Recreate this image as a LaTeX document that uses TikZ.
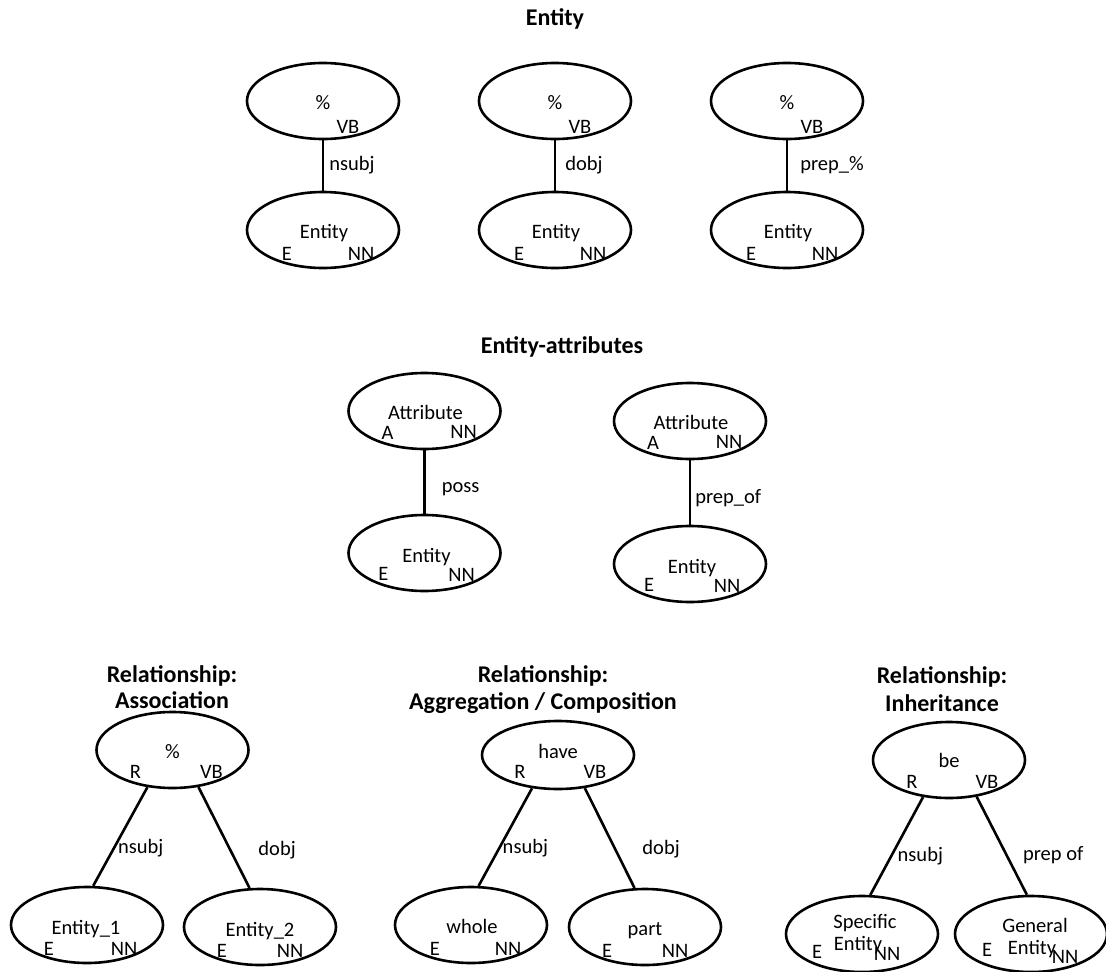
\documentclass[tikz,border=0pt]{standalone}
\usepackage{fontspec}
\setmainfont{Carlito}
\usetikzlibrary{shapes.geometric}
% place a text with its baseline at an offset from a node's centre
\newcommand\ptxt[4]{\node[lbl] at ([shift={(#2,#3)}]#1.center) {#4};}
\begin{document}
\begin{tikzpicture}[x=1pt,y=-1pt,
  ell/.style={draw, ellipse, line width=2.6pt, minimum width=152pt, minimum height=76pt, inner sep=0pt},
  link/.style={line width=2.6pt},
  lbl/.style={inner sep=0pt, anchor=base, font=\fontsize{20.5}{24}\selectfont},
  elbl/.style={inner sep=0pt, anchor=west, font=\fontsize{20.5}{24}\selectfont},
  ttl/.style={inner sep=0pt, anchor=base, font=\fontsize{24}{28}\selectfont\bfseries}]
\useasboundingbox (0,0) rectangle (1106,972);

% ---------- Entity ----------
\node[ttl] (tEnt) at (555,25) {Entity};
\node[ell] (t1) at (323,101) {};
\node[ell] (t2) at (555,101) {};
\node[ell] (t3) at (787,101) {};
\node[ell] (b1) at (323,230) {};
\node[ell] (b2) at (555,230) {};
\node[ell] (b3) at (787,230) {};
\foreach \n in {t1,t2,t3}{\ptxt{\n}{0}{8}{\%}\ptxt{\n}{25}{32}{VB}}
\foreach \n in {b1,b2,b3}{\ptxt{\n}{1}{8}{Entity}\ptxt{\n}{-36}{30}{E}\ptxt{\n}{38}{30}{NN}}
\draw[link] (t1.south) -- node[elbl, pos=.5, xshift=5pt] {nsubj} (b1.north);
\draw[link] (t2.south) -- node[elbl, pos=.5, xshift=9pt] {dobj} (b2.north);
\draw[link] (t3.south) -- node[elbl, pos=.5, xshift=12pt] {prep\_\%} (b3.north);

% ---------- Entity-attributes ----------
\node[ttl] (tAtt) at (562,353) {Entity-attributes};
\node[ell] (a1) at (424.5,411) {};
\node[ell] (a2) at (690,421) {};
\node[ell] (ae1) at (424.5,553) {};
\node[ell] (ae2) at (690,564) {};
\foreach \n in {a1,a2}{\ptxt{\n}{1}{8}{Attribute}\ptxt{\n}{-37}{28}{A}\ptxt{\n}{39}{27}{NN}}
\foreach \n in {ae1,ae2}{\ptxt{\n}{2}{9}{Entity}\ptxt{\n}{-41}{27}{E}\ptxt{\n}{37}{28}{NN}}
\draw[link] (a1.south) -- node[elbl, pos=.61, xshift=16pt] {poss} (ae1.north);
\draw[link] (a2.south) -- node[elbl, pos=.58, xshift=4pt] {prep\_of} (ae2.north);

% ---------- Relationship: Association ----------
\node[ttl] (tAs1) at (172,682) {Relationship:};
\node[ttl] (tAs2) at (172,708) {Association};
\node[ell] (r1) at (172.5,750) {};
\node[ell] (e11) at (87,925) {};
\node[ell] (e12) at (260,927) {};
\ptxt{r1}{0}{8}{\%}\ptxt{r1}{-37}{28}{R}\ptxt{r1}{39}{28}{VB}
\ptxt{e11}{-1}{9}{Entity\_1}\ptxt{e11}{-38}{30}{E}\ptxt{e11}{37}{30}{NN}
\ptxt{e12}{0}{9}{Entity\_2}\ptxt{e12}{-38}{30}{E}\ptxt{e12}{30}{30}{NN}
\draw[link] (r1.236) -- node[elbl, pos=.62, xshift=3pt] {nsubj} (e11.81);
\draw[link] (r1.305) -- node[elbl, pos=.62, xshift=27pt] {dobj} (e12.105);

% ---------- Relationship: Aggregation / Composition ----------
\node[ttl] (tAg1) at (543,682) {Relationship:};
\node[ttl] (tAg2) at (543,709) {Aggregation / Composition};
\node[ell, minimum height=68pt] (r2) at (558,755) {};
\node[ell] (e21) at (471,925) {};
\node[ell] (e22) at (645,927) {};
\ptxt{r2}{0}{3}{have}\ptxt{r2}{-38}{23}{R}\ptxt{r2}{37}{23}{VB}
\ptxt{e21}{1}{8}{whole}\ptxt{e21}{-36}{30}{E}\ptxt{e21}{37}{30}{NN}
\ptxt{e22}{0}{8}{part}\ptxt{e22}{-38}{30}{E}\ptxt{e22}{30}{30}{NN}
\draw[link] (r2.232) -- node[elbl, pos=.61, xshift=2pt] {nsubj} (e21.79);
\draw[link] (r2.309) -- node[elbl, pos=.61, xshift=26pt] {dobj} (e22.105);

% ---------- Relationship: Inheritance ----------
\node[ttl] (tIn1) at (942,683) {Relationship:};
\node[ttl] (tIn2) at (942,711) {Inheritance};
\node[ell] (r3) at (949,760) {};
\node[ell] (e31) at (862,934) {};
\node[ell] (e32) at (1031,934) {};
\ptxt{r3}{0}{7}{be}\ptxt{r3}{-37}{28}{R}\ptxt{r3}{38}{28}{VB}
\ptxt{e31}{3}{-6}{Specific}\ptxt{e31}{-4}{16}{Entity}\ptxt{e31}{-45}{24}{E}\ptxt{e31}{25}{26}{NN}
\ptxt{e32}{4}{-2}{General}\ptxt{e32}{1}{20}{Entity}\ptxt{e32}{-44}{22}{E}\ptxt{e32}{34}{29}{NN}
\draw[link] (r3.235) -- node[elbl, pos=.6, xshift=5pt] {nsubj} (e31.78);
\draw[link] (r3.307) -- node[elbl, pos=.6, xshift=15pt] {prep of} (e32.96);
\end{tikzpicture}
\end{document}
